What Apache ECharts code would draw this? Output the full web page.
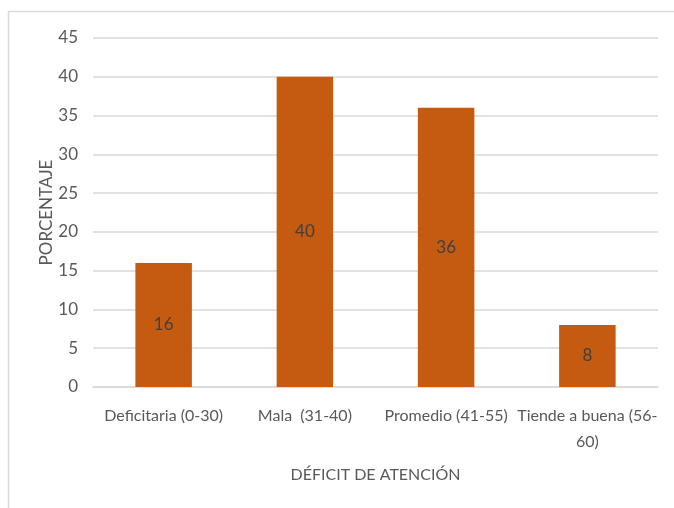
<!DOCTYPE html>
<html>
<head>
<meta charset="utf-8">
<script src="https://cdn.jsdelivr.net/npm/echarts@6/dist/echarts.min.js"></script>
<style>
html,body{margin:0;padding:0;background:#fff;}
#c{width:674px;height:508px;}
</style>
</head>
<body>
<div id="c"></div>
<script>
var categories = ['Deficitaria (0-30)', 'Mala  (31-40)', 'Promedio (41-55)', 'Tiende a buena (56-\n60)'];
var values = [16, 40, 36, 8];
var yTicks = {min: 0, max: 45, interval: 5};
var xTitle = 'DÉFICIT DE ATENCIÓN';
var yTitle = 'PORCENTAJE';

var FONT = '"Lato", sans-serif';
var chart = echarts.init(document.getElementById('c'));
chart.setOption({
  animation: false,
  backgroundColor: '#fff',
  textStyle: {fontFamily: FONT},
  graphic: [{
    type: 'rect',
    shape: {x: 8.5, y: 11.5, width: 700, height: 600},
    style: {fill: 'none', stroke: '#d9d9d9', lineWidth: 1.5},
    silent: true
  }],
  grid: {left: 93, right: 16, top: 38, bottom: 121},
  xAxis: {
    type: 'category',
    data: categories,
    name: xTitle,
    nameLocation: 'middle',
    nameGap: 80,
    nameMoveOverlap: false,
    nameTextStyle: {color: '#595959', fontSize: 16, fontFamily: FONT},
    axisLine: {lineStyle: {color: '#d9d9d9', width: 1.5}},
    axisTick: {show: false},
    axisLabel: {color: '#595959', fontSize: 16, fontFamily: FONT, margin: 16, lineHeight: 26, interval: 0}
  },
  yAxis: {
    type: 'value',
    min: yTicks.min, max: yTicks.max, interval: yTicks.interval,
    name: yTitle,
    nameLocation: 'middle',
    nameGap: 38,
    nameMoveOverlap: false,
    nameRotate: 90,
    nameTextStyle: {color: '#595959', fontSize: 17, fontFamily: FONT},
    axisLine: {show: false},
    axisTick: {show: false},
    splitLine: {lineStyle: {color: '#d9d9d9', width: 1.5}},
    axisLabel: {color: '#595959', fontSize: 17, fontFamily: FONT, margin: 15}
  },
  series: [{
    type: 'bar',
    data: values,
    barWidth: '40%',
    itemStyle: {color: '#C55A11'},
    label: {show: true, position: 'inside', color: '#404040', fontSize: 17, fontFamily: FONT}
  }]
});
</script>
</body>
</html>
